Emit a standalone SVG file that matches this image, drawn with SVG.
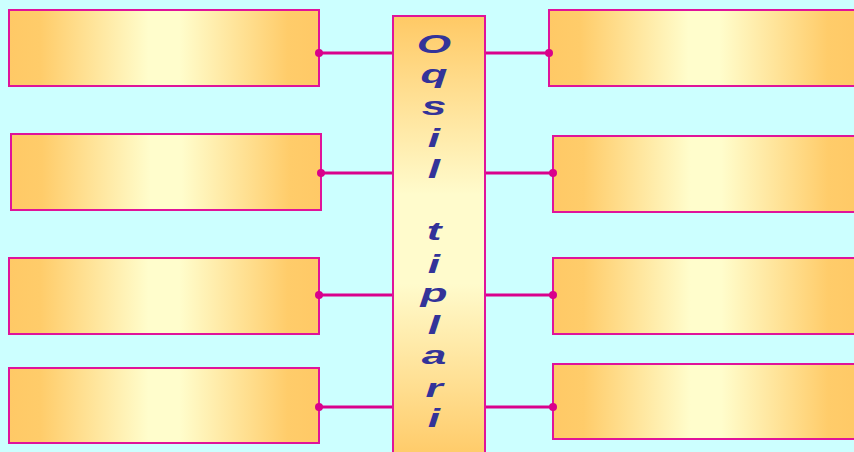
<svg xmlns="http://www.w3.org/2000/svg" width="854" height="452" viewBox="0 0 854 452">
<defs>
<linearGradient id="gh" x1="0" y1="0" x2="1" y2="0">
<stop offset="0" stop-color="#FFC966"/>
<stop offset="0.1" stop-color="#FFCC6A"/>
<stop offset="0.45" stop-color="#FFFDCC"/>
<stop offset="0.55" stop-color="#FFFDCC"/>
<stop offset="0.9" stop-color="#FFCC6A"/>
<stop offset="1" stop-color="#FFC966"/>
</linearGradient>
<linearGradient id="gv" x1="0" y1="0" x2="0" y2="1">
<stop offset="0" stop-color="#FFC965"/>
<stop offset="0.4" stop-color="#FFFBCC"/>
<stop offset="0.6" stop-color="#FFFBCC"/>
<stop offset="1" stop-color="#FFC965"/>
</linearGradient>
<marker id="dot" markerWidth="10" markerHeight="10" refX="5" refY="5" markerUnits="userSpaceOnUse">
<circle cx="5" cy="5" r="4" fill="#D9008C"/>
</marker>
<style>
.box{fill:url(#gh);stroke:#E0139A;stroke-width:2}
.ctr{fill:url(#gv);stroke:#E0139A;stroke-width:2}
.ln{stroke:#D9008C;stroke-width:3;fill:none;marker-end:url(#dot)}
.lt{font-family:"Liberation Sans",Arial,sans-serif;font-weight:bold;font-style:italic;font-size:26px;fill:#333399;text-anchor:middle}
</style>
</defs>
<rect width="854" height="452" fill="#CCFFFF"/>
<g id="left1"><rect class="box" x="9" y="10" width="310" height="76"/></g>
<g id="left2"><rect class="box" x="11" y="134" width="310" height="76"/></g>
<g id="left3"><rect class="box" x="9" y="258" width="310" height="76"/></g>
<g id="left4"><rect class="box" x="9" y="368" width="310" height="75"/></g>
<g id="right1"><rect class="box" x="549" y="10" width="310" height="76"/></g>
<g id="right2"><rect class="box" x="553" y="136" width="306" height="76"/></g>
<g id="right3"><rect class="box" x="553" y="258" width="306" height="76"/></g>
<g id="right4"><rect class="box" x="553" y="364" width="306" height="75"/></g>
<g id="connectors">
<line class="ln" x1="393" y1="53" x2="319" y2="53"/>
<line class="ln" x1="393" y1="173" x2="321" y2="173"/>
<line class="ln" x1="393" y1="295" x2="319" y2="295"/>
<line class="ln" x1="393" y1="407" x2="319" y2="407"/>
<line class="ln" x1="485" y1="53" x2="549" y2="53"/>
<line class="ln" x1="485" y1="173" x2="553" y2="173"/>
<line class="ln" x1="485" y1="295" x2="553" y2="295"/>
<line class="ln" x1="485" y1="407" x2="553" y2="407"/>
</g>
<g id="center">
<rect class="ctr" x="393" y="16" width="92" height="446"/>
<g transform="translate(434,0) scale(1.7,1)">
<text class="lt" x="0" y="53">O</text>
<text class="lt" x="0" y="83">q</text>
<text class="lt" x="0" y="115">s</text>
<text class="lt" x="0" y="147">i</text>
<text class="lt" x="0" y="178">l</text>
<text class="lt" x="0" y="240">t</text>
<text class="lt" x="0" y="273">i</text>
<text class="lt" x="0" y="302">p</text>
<text class="lt" x="0" y="334">l</text>
<text class="lt" x="0" y="364">a</text>
<text class="lt" x="0" y="397">r</text>
<text class="lt" x="0" y="427">i</text>
</g>
</g>
</svg>
